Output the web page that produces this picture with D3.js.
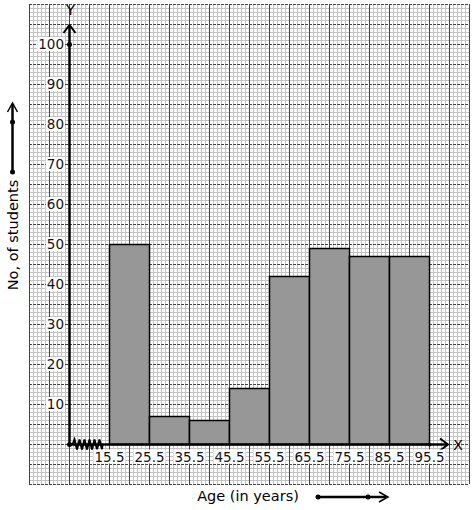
<!DOCTYPE html>
<html><head><meta charset="utf-8">
<script src="https://cdn.jsdelivr.net/npm/d3@7"></script>
<style>body{margin:0;background:#fff}svg{display:block}text{font-family:"DejaVu Sans",sans-serif}</style>
</head><body>
<script>
const classEdges = [15.5, 25.5, 35.5, 45.5, 55.5, 65.5, 75.5, 85.5, 95.5];
const frequencies = [50, 7, 6, 14, 42, 49, 47, 47];
const yTicks = [10, 20, 30, 40, 50, 60, 70, 80, 90, 100];
const xTitle = "Age (in years)";
const yTitle = "No, of students";

const W = 474, H = 510;
const svg = d3.select("body").append("svg").attr("width", W).attr("height", H);

// graph paper
const px0 = 29, px1 = 469, py0 = 4, py1 = 484;
const paper = svg.append("g");
paper.append("rect").attr("x", px0).attr("y", py0).attr("width", px1 - px0).attr("height", py1 - py0).attr("fill", "#fff");
for (let x = px0; x <= px1; x += 4) {
  if ((x - px0) % 20 === 0) continue;
  paper.append("line").attr("x1", x + 0.5).attr("x2", x + 0.5).attr("y1", py0).attr("y2", py1).attr("stroke", "#c4c4c4").attr("stroke-width", 1);
}
for (let y = py0; y <= py1; y += 4) {
  if ((y - py0) % 20 === 0) continue;
  paper.append("line").attr("y1", y + 0.5).attr("y2", y + 0.5).attr("x1", px0).attr("x2", px1).attr("stroke", "#c4c4c4").attr("stroke-width", 1);
}
for (let y = py0; y <= py1; y += 20) {
  paper.append("line").attr("y1", y + 0.5).attr("y2", y + 0.5).attr("x1", px0).attr("x2", px1).attr("stroke", "#444").attr("stroke-width", 1).attr("stroke-dasharray", "3,1");
}
for (let x = px0; x <= px1; x += 20) {
  paper.append("line").attr("x1", x + 0.5).attr("x2", x + 0.5).attr("y1", py0).attr("y2", py1).attr("stroke", "#444").attr("stroke-width", 1);
}

// scales
const x = d3.scaleLinear().domain([5.5, 95.5]).range([69, 429]);
const y = d3.scaleLinear().domain([0, 100]).range([444, 44]);

// bars
const bins = frequencies.map((f, i) => ({ x0: classEdges[i], x1: classEdges[i + 1], f }));
svg.append("g").selectAll("rect").data(bins).join("rect")
  .attr("x", d => x(d.x0) + 0.5).attr("y", d => y(d.f) + 0.5)
  .attr("width", d => x(d.x1) - x(d.x0)).attr("height", d => y(0) - y(d.f))
  .attr("fill", "#979797").attr("stroke", "#000").attr("stroke-width", 1.5);

// axes
const ax = svg.append("g");
const ox = x(5.5) + 0.5, oy = y(0) + 0.5;
ax.append("line").attr("x1", ox).attr("x2", 447).attr("y1", oy).attr("y2", oy).attr("stroke", "#000").attr("stroke-width", 2.5);
ax.append("path").attr("d", `M${440},${oy - 6} L${448},${oy} L${440},${oy + 6}`).attr("fill", "none").attr("stroke", "#000").attr("stroke-width", 2);
ax.append("line").attr("x1", ox).attr("x2", ox).attr("y1", oy).attr("y2", 25).attr("stroke", "#000").attr("stroke-width", 2.5);
ax.append("path").attr("d", `M${ox - 6},${33} L${ox},${25} L${ox + 6},${33}`).attr("fill", "none").attr("stroke", "#000").attr("stroke-width", 2);
ax.append("circle").attr("cx", ox).attr("cy", oy).attr("r", 2.5).attr("fill", "#000");
ax.append("circle").attr("cx", ox).attr("cy", y(100) + 0.5).attr("r", 2.5).attr("fill", "#000");
ax.append("circle").attr("cx", x(95.5) + 0.5).attr("cy", oy).attr("r", 2).attr("fill", "#000");
// kink
let zz = `M${ox + 3},${oy}`;
for (let i = 0; i < 6; i++) {
  const bx = ox + 5 + i * 5;
  zz += ` L${bx},${oy - 5} L${bx + 2.5},${oy + 5}`;
}
zz += ` L${ox + 33},${oy}`;
ax.append("path").attr("d", zz).attr("fill", "none").attr("stroke", "#000").attr("stroke-width", 2);

ax.append("text").attr("x", ox + 1).attr("y", 15).attr("text-anchor", "middle").attr("font-size", 14).text("Y");
ax.append("text").attr("x", 458).attr("y", oy + 5).attr("text-anchor", "middle").attr("font-size", 14).text("X");

// tick labels with white backgrounds
function label(g, tx, ty, txt, anchor) {
  const t = g.append("text").attr("x", tx).attr("y", ty).attr("text-anchor", anchor).attr("font-size", 13.5).attr("fill", "#111").text(txt);
  const b = t.node().getBBox();
  g.insert("rect", "text").attr("x", b.x - 1).attr("y", b.y + 1).attr("width", b.width + 2).attr("height", b.height - 2).attr("fill", "#fff");
}
const yl = svg.append("g");
yTicks.forEach(v => { const g = yl.append("g"); label(g, 64, y(v) + 5, String(v), "end"); });
const xl = svg.append("g");
classEdges.forEach(v => { const g = xl.append("g"); label(g, x(v) + 0.5, oy + 17, String(v), "middle"); });

// titles
svg.append("text").attr("x", 248).attr("y", 501).attr("text-anchor", "middle").attr("font-size", 14.5).text(xTitle);
svg.append("text").attr("transform", "translate(18,235) rotate(-90)").attr("text-anchor", "middle").attr("font-size", 14.5).text(yTitle);

// decorative arrows
const arr = svg.append("g");
arr.append("line").attr("x1", 317).attr("x2", 386).attr("y1", 497).attr("y2", 497).attr("stroke", "#000").attr("stroke-width", 2.5);
arr.append("path").attr("d", "M379,492 L388,497 L379,502").attr("fill", "none").attr("stroke", "#000").attr("stroke-width", 1.5);
arr.append("circle").attr("cx", 318).attr("cy", 497).attr("r", 2.5);
arr.append("circle").attr("cx", 368).attr("cy", 497).attr("r", 2.5);
arr.append("line").attr("x1", 12.5).attr("x2", 12.5).attr("y1", 172).attr("y2", 104).attr("stroke", "#000").attr("stroke-width", 2.5);
arr.append("path").attr("d", "M7.5,112 L12.5,103 L17.5,112").attr("fill", "none").attr("stroke", "#000").attr("stroke-width", 1.5);
arr.append("circle").attr("cx", 12.5).attr("cy", 172).attr("r", 2.5);
arr.append("circle").attr("cx", 12.5).attr("cy", 122).attr("r", 2.5);
</script>
</body></html>
